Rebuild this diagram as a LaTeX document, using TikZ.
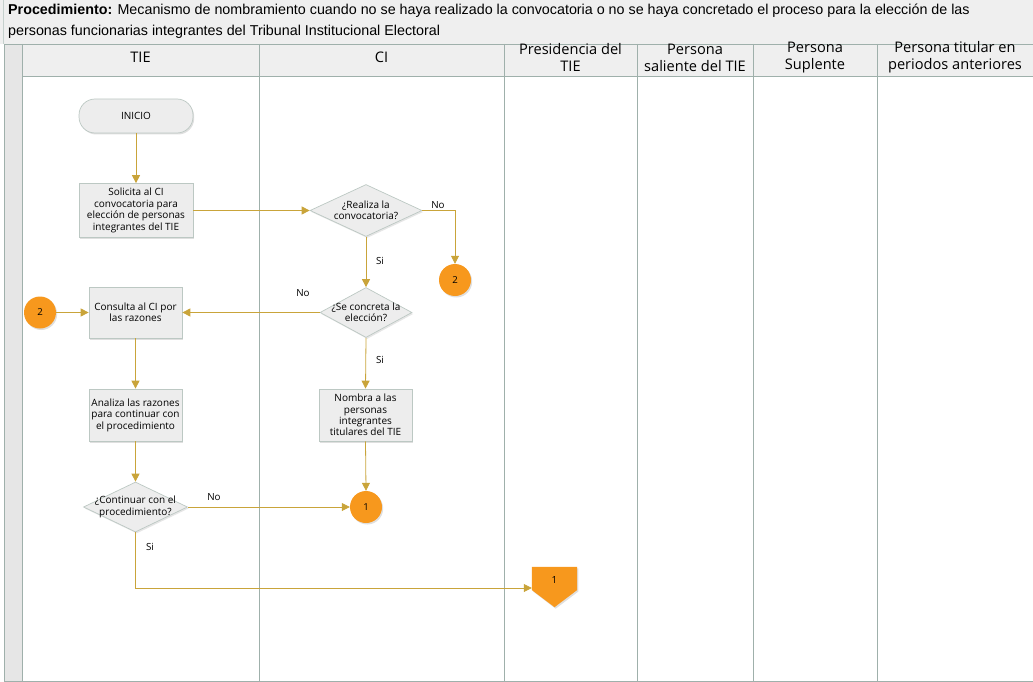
\documentclass[tikz,border=0pt]{standalone}
\usepackage{fontspec}
\setmainfont{Liberation Sans}
\newfontfamily\lanefont{Open Sans}
\usetikzlibrary{shapes.geometric,arrows.meta,shadows}
\definecolor{lanel}{HTML}{9FB0AB}
\definecolor{hdrbg}{HTML}{EFEFEF}
\definecolor{strip}{HTML}{E6E6E6}
\definecolor{nodefill}{HTML}{EDEDED}
\definecolor{nodeline}{HTML}{BCC8C3}
\definecolor{flow}{HTML}{C9A43A}
\definecolor{orng}{HTML}{F7981D}
\tikzset{
  lane/.style={draw=lanel, line width=0.8pt},
  proc/.style={draw=nodeline, fill=nodefill, line width=0.7pt, align=center, font=\lanefont\fontsize{10}{11.4}\selectfont, inner sep=1pt,
     drop shadow={opacity=0.25, shadow xshift=1.2pt, shadow yshift=-1.5pt}},
  term/.style={proc, rounded corners=16pt},
  diam/.style={diamond, draw=nodeline, fill=nodefill, line width=0.7pt, inner sep=0pt,
     drop shadow={opacity=0.2, shadow xshift=1.2pt, shadow yshift=-1.5pt}},
  dtext/.style={align=center, font=\lanefont\fontsize{10}{11.4}\selectfont, inner sep=0pt},
  conn/.style={circle, fill=orng, minimum size=32pt, inner sep=0pt, font=\lanefont\fontsize{9.6}{11}\selectfont,
     drop shadow={opacity=0.25, shadow xshift=1.2pt, shadow yshift=-1.5pt}},
  arr/.style={draw=flow, line width=0.8pt, -{Triangle[length=8pt,width=8pt]}},
  lbl/.style={font=\lanefont\fontsize{9.8}{11}\selectfont, inner sep=0pt},
  hdr/.style={align=center, font=\lanefont\fontsize{14.6}{17}\selectfont, inner sep=0pt},
}
\begin{document}
\begin{tikzpicture}[x=1pt,y=-1pt]
\useasboundingbox (0,0) rectangle (1033,682);
% title band
\fill[hdrbg] (0,0) rectangle (1033,44);
\draw[lanel!60, line width=0.6pt] (3,0) -- (3,44);
\node[anchor=base west, inner sep=0pt, font=\fontsize{14.3}{16}\selectfont] (t1) at (8,15) {\textbf{Procedimiento:} Mecanismo de nombramiento cuando no se haya realizado la convocatoria o no se haya concretado el proceso para la elección de las};
\node[anchor=base west, inner sep=0pt, font=\fontsize{14.3}{16}\selectfont] (t2) at (8,36) {personas funcionarias integrantes del Tribunal Institucional Electoral};
% pool strip
\fill[strip] (4,44) rectangle (22,681);
\fill[hdrbg] (22,44) rectangle (1033,76);
\draw[lane] (4,44) -- (4,681);
\draw[lane] (4,44) -- (1033,44);
\draw[lane] (22,76) -- (1033,76);
\draw[lane] (4,681) -- (1033,681);
\foreach \x in {22,259,504,637,753,877} { \draw[lane] (\x,44) -- (\x,681); }
\node[hdr] (h1) at (140.5,57) {TIE};
\node[hdr] (h2) at (381.5,57) {CI};
\node[hdr] (h3) at (570.5,57.5) {Presidencia del\\TIE};
\node[hdr] (h4) at (695,57.5) {Persona\\saliente del TIE};
\node[hdr] (h5) at (815,57.5) {Persona\\Suplente};
\node[hdr] (h6) at (955,57.5) {Persona titular en\\periodos anteriores};
% nodes
\node[term, minimum width=114pt, minimum height=34pt] (ini) at (136,116) {INICIO};
\node[proc, minimum width=114pt, minimum height=54pt] (sol) at (136,210.5) {Solicita al CI\\convocatoria para\\elección de personas\\integrantes del TIE};
\node[diam, minimum width=112pt, minimum height=52pt] (rea) at (366,210.5) {};
\node[dtext] (reat) at (rea) {¿Realiza la\\convocatoria?};
\node[conn] (c2a) at (455,280) {2};
\node[diam, minimum width=92pt, minimum height=50pt] (con) at (366,312.5) {};
\node[dtext] (cont) at (con) {¿Se concreta la\\elección?};
\node[conn] (c2b) at (40,312.5) {2};
\node[proc, minimum width=93pt, minimum height=51pt] (cons) at (135.5,312.5) {Consulta al CI por\\las razones};
\node[proc, minimum width=93pt, minimum height=52pt] (ana) at (135.5,415) {Analiza las razones\\para continuar con\\el procedimiento};
\node[proc, minimum width=93pt, minimum height=52pt] (nom) at (365.5,415) {Nombra a las\\personas\\integrantes\\titulares del TIE};
\node[diam, minimum width=104pt, minimum height=50pt] (cnt) at (135.5,507) {};
\node[dtext] (cntt) at (cnt) {¿Continuar con el\\procedimiento?};
\node[conn] (c1) at (366,507) {1};
\node[minimum width=45pt, minimum height=40pt, inner sep=0pt] (off) at (554.5,587) {};
\fill[orng, drop shadow={opacity=0.25, shadow xshift=1.2pt, shadow yshift=-1.5pt}] (off.north west) -- (off.north east) -- ([yshift=-3pt]off.east) -- (off.south) -- ([yshift=-3pt]off.west) -- cycle;
\node[lbl] (off1) at (554.5,580) {1};
\coordinate (bend) at (135.5,588);
% connectors
\draw[arr] (ini) -- (sol);
\draw[arr] (sol.east) -- (rea.west);
\draw[arr] (rea.east) -| (c2a.north);
\draw[arr] (rea.south) -- (con.north);
\draw[arr] (con.west) -- (cons.east);
\draw[arr] (c2b.east) -- (cons.west);
\draw[arr] (cons.south) -- (ana.north);
\draw[arr] (ana.south) -- (cnt.north);
\draw[arr] (con.south) -- (nom.north);
\draw[arr] (nom.south) -- (c1.north);
\draw[arr] (cnt.east) -- (c1.west);
\draw[arr] (cnt.south) -- (bend) -- (bend -| off.west);
% labels
\node[lbl] (l1) at (438,205) {No};
\node[lbl] (l2) at (380,261) {Si};
\node[lbl] (l3) at (303,293) {No};
\node[lbl] (l4) at (380,360) {Si};
\node[lbl] (l5) at (214,497) {No};
\node[lbl] (l6) at (150,547) {Si};
\end{tikzpicture}
\end{document}
